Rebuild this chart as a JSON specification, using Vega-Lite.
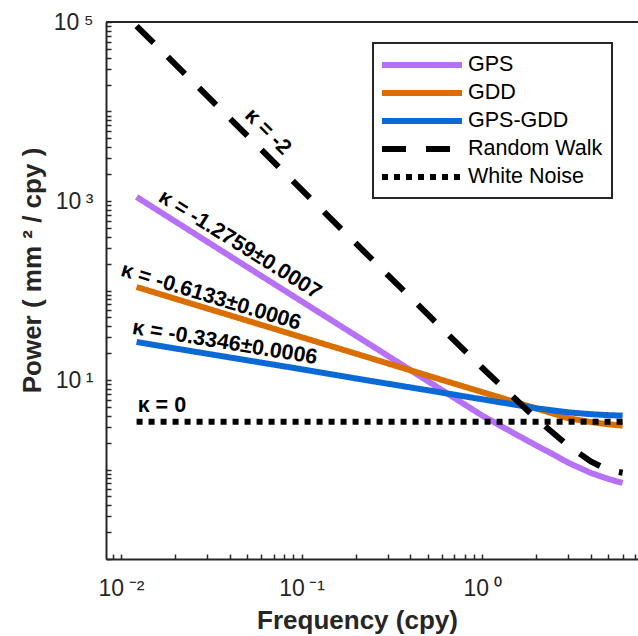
{
  "$schema": "https://vega.github.io/schema/vega-lite/v6.json",
  "width": 532,
  "height": 537,
  "autosize": "none",
  "padding": {"left": 106, "top": 22, "right": 0, "bottom": 77},
  "config": {
    "view": {"stroke": null},
    "font": "Liberation Sans",
    "axis": {
      "grid": false,
      "domainColor": "#262626",
      "domainWidth": 2,
      "labelColor": "#262626",
      "labelFont": "Liberation Sans",
      "labelFontSize": 23,
      "titleFont": "Liberation Sans",
      "titleFontSize": 26,
      "titleFontWeight": "bold",
      "titleColor": "#262626"
    }
  },
  "datasets": {
    "curves": [
      {"series": "GPS", "f": 0.0122, "p": 1109},
      {"series": "GPS", "f": 0.02, "p": 590},
      {"series": "GPS", "f": 0.05, "p": 183},
      {"series": "GPS", "f": 0.1, "p": 75.7},
      {"series": "GPS", "f": 0.2, "p": 31.3},
      {"series": "GPS", "f": 0.5, "p": 9.72},
      {"series": "GPS", "f": 0.7, "p": 6.32},
      {"series": "GPS", "f": 1, "p": 4.01},
      {"series": "GPS", "f": 1.5, "p": 2.54},
      {"series": "GPS", "f": 2, "p": 1.85},
      {"series": "GPS", "f": 2.5, "p": 1.46},
      {"series": "GPS", "f": 3, "p": 1.19},
      {"series": "GPS", "f": 4, "p": 0.916},
      {"series": "GPS", "f": 5, "p": 0.784},
      {"series": "GPS", "f": 6, "p": 0.706},
      {"series": "GDD", "f": 0.0122, "p": 109.4},
      {"series": "GDD", "f": 0.02, "p": 80.8},
      {"series": "GDD", "f": 0.05, "p": 46.1},
      {"series": "GDD", "f": 0.1, "p": 30.1},
      {"series": "GDD", "f": 0.2, "p": 19.7},
      {"series": "GDD", "f": 0.5, "p": 11.2},
      {"series": "GDD", "f": 1, "p": 7.33},
      {"series": "GDD", "f": 2, "p": 4.8},
      {"series": "GDD", "f": 3, "p": 3.74},
      {"series": "GDD", "f": 4, "p": 3.39},
      {"series": "GDD", "f": 5, "p": 3.2},
      {"series": "GDD", "f": 6, "p": 3.09},
      {"series": "GPS-GDD", "f": 0.0122, "p": 26.6},
      {"series": "GPS-GDD", "f": 0.02, "p": 22.5},
      {"series": "GPS-GDD", "f": 0.05, "p": 16.6},
      {"series": "GPS-GDD", "f": 0.1, "p": 13.2},
      {"series": "GPS-GDD", "f": 0.2, "p": 10.4},
      {"series": "GPS-GDD", "f": 0.5, "p": 7.68},
      {"series": "GPS-GDD", "f": 1, "p": 6.09},
      {"series": "GPS-GDD", "f": 2, "p": 4.83},
      {"series": "GPS-GDD", "f": 3, "p": 4.35},
      {"series": "GPS-GDD", "f": 4, "p": 4.15},
      {"series": "GPS-GDD", "f": 5, "p": 4.05},
      {"series": "GPS-GDD", "f": 6, "p": 4.0},
      {"series": "Random Walk", "f": 0.0122, "p": 90200},
      {"series": "Random Walk", "f": 0.02, "p": 33570},
      {"series": "Random Walk", "f": 0.05, "p": 5370},
      {"series": "Random Walk", "f": 0.1, "p": 1342},
      {"series": "Random Walk", "f": 0.2, "p": 335.5},
      {"series": "Random Walk", "f": 0.5, "p": 54.0},
      {"series": "Random Walk", "f": 1, "p": 13.7},
      {"series": "Random Walk", "f": 2, "p": 3.68},
      {"series": "Random Walk", "f": 3, "p": 1.84},
      {"series": "Random Walk", "f": 4, "p": 1.23},
      {"series": "Random Walk", "f": 5, "p": 0.986},
      {"series": "Random Walk", "f": 6, "p": 0.92},
      {"series": "White Noise", "f": 0.0122, "p": 3.42},
      {"series": "White Noise", "f": 6, "p": 3.42}
    ]
  },
  "layer": [
    {
      "data": {"name": "curves"},
      "mark": {"type": "line", "strokeWidth": 6, "strokeCap": "butt", "clip": true},
      "encoding": {
        "x": {
          "field": "f", "type": "quantitative",
          "scale": {"type": "log", "domain": [0.00826, 7.3], "nice": false},
          "axis": {
            "orient": "bottom",
            "title": "Frequency (cpy)",
            "titleX": 251, "titleY": 69, "titleAlign": "center", "titleBaseline": "alphabetic", "titleAnchor": "start",
            "values": [0.009, 0.01, 0.02, 0.03, 0.04, 0.05, 0.06, 0.07, 0.08, 0.09, 0.1, 0.2, 0.3, 0.4, 0.5, 0.6, 0.7, 0.8, 0.9, 1, 2, 3, 4, 5, 6, 7],
            "labelExpr": "datum.value == 0.01 ? '10\u2009\u207b\u00b2' : datum.value == 0.1 ? '10\u2009\u207b\u00b9' : datum.value == 1 ? '10\u2009\u2070' : ''",
            "labelPadding": 23,
            "labelBaseline": "top",
            "labelFlush": false,
            "labelOverlap": false,
            "ticks": true,
            "tickColor": "#262626",
            "tickWidth": 1.5,
            "tickSize": -5,
            "encode": {"ticks": {"update": {"y2": {"signal": "(datum.value == 0.01 || datum.value == 0.1 || datum.value == 1) ? -8 : -4.5"}}}}
          }
        },
        "y": {
          "field": "p", "type": "quantitative",
          "scale": {"type": "log", "domain": [0.1, 100000], "nice": false},
          "axis": {
            "orient": "left",
            "title": "Power (  mm \u00b2 / cpy )",
            "titleX": -66, "titleY": 248, "titleAngle": -90, "titleAlign": "center", "titleBaseline": "alphabetic", "titleAnchor": "start",
            "values": [0.1, 0.2, 0.3, 0.4, 0.5, 0.6, 0.7, 0.8, 0.9, 1, 2, 3, 4, 5, 6, 7, 8, 9, 10, 20, 30, 40, 50, 60, 70, 80, 90, 100, 200, 300, 400, 500, 600, 700, 800, 900, 1000, 2000, 3000, 4000, 5000, 6000, 7000, 8000, 9000, 10000, 20000, 30000, 40000, 50000, 60000, 70000, 80000, 90000, 100000],
            "labelExpr": "datum.value == 10 ? '10\u2009\u00b9' : datum.value == 1000 ? '10\u2009\u00b3' : datum.value == 100000 ? '10\u2009\u2075' : ''",
            "labelPadding": 18,
            "labelFlush": false,
            "labelOverlap": false,
            "ticks": true,
            "tickSize": -5,
            "tickColor": "#262626",
            "tickWidth": 1.5,
            "encode": {"ticks": {"update": {"x2": {"signal": "(datum.value == 10 || datum.value == 1000 || datum.value == 100000) ? 8 : 4.5"}, "stroke": {"value": "#262626"}, "strokeWidth": {"value": 1.5}, "opacity": {"value": 1}}}}
          }
        },
        "color": {
          "field": "series", "type": "nominal",
          "scale": {"domain": ["GPS", "GDD", "GPS-GDD", "Random Walk", "White Noise"], "range": ["#B771F7", "#D96F00", "#0B69D6", "#000000", "#000000"]},
          "legend": {
            "title": null,
            "orient": "none", "legendX": 267, "legendY": 21,
            "fillColor": "white", "strokeColor": "#262626",
            "padding": 9,
            "symbolType": "M-4,0H4",
            "symbolSize": 400,
            "symbolStrokeWidth": 6,
            "symbolOffset": 27,
            "labelOffset": 33,
            "labelFont": "Liberation Sans",
            "labelFontSize": 21.5,
            "labelColor": "#000000",
            "rowPadding": 3,
            "encode": {"legend": {"update": {"strokeWidth": {"value": 2}}}}
          }
        },
        "strokeDash": {
          "field": "series", "type": "nominal",
          "scale": {"domain": ["GPS", "GDD", "GPS-GDD", "Random Walk", "White Noise"], "range": [[1, 0], [1, 0], [1, 0], [24, 20], [6, 6]]},
          "legend": {
            "title": null,
            "orient": "none", "legendX": 267, "legendY": 21,
            "fillColor": "white", "strokeColor": "#262626",
            "padding": 9,
            "symbolType": "M-4,0H4",
            "symbolSize": 400,
            "symbolStrokeWidth": 6,
            "symbolOffset": 27,
            "labelOffset": 33,
            "labelFont": "Liberation Sans",
            "labelFontSize": 21.5,
            "labelColor": "#000000",
            "rowPadding": 3,
            "encode": {"legend": {"update": {"strokeWidth": {"value": 2}}}}
          }
        }
      }
    },
    {
      "data": {"values": [{"frame": "top", "p": 100000}]},
      "mark": {"type": "rule", "color": "#262626", "strokeWidth": 2},
      "encoding": {
        "y": {"field": "p", "type": "quantitative"}
      }
    },
    {
      "data": {"values": [{"label": "\u03ba = -2", "f": 0.0649, "p": 5900}]},
      "mark": {"type": "text", "angle": 45, "font": "Liberation Sans", "fontWeight": "bold", "fontSize": 21.5, "align": "center", "baseline": "middle", "color": "#000000"},
      "encoding": {
        "x": {"field": "f", "type": "quantitative"},
        "y": {"field": "p", "type": "quantitative"},
        "text": {"field": "label"}
      }
    },
    {
      "data": {"values": [{"label": "\u03ba = -1.2759\u00b10.0007", "f": 0.04546, "p": 322}]},
      "mark": {"type": "text", "angle": 32, "font": "Liberation Sans", "fontWeight": "bold", "fontSize": 21.5, "align": "center", "baseline": "middle", "color": "#000000"},
      "encoding": {
        "x": {"field": "f", "type": "quantitative"},
        "y": {"field": "p", "type": "quantitative"},
        "text": {"field": "label"}
      }
    },
    {
      "data": {"values": [{"label": "\u03ba = -0.6133\u00b10.0006", "f": 0.03143, "p": 84.5}]},
      "mark": {"type": "text", "angle": 17, "font": "Liberation Sans", "fontWeight": "bold", "fontSize": 21.5, "align": "center", "baseline": "middle", "color": "#000000"},
      "encoding": {
        "x": {"field": "f", "type": "quantitative"},
        "y": {"field": "p", "type": "quantitative"},
        "text": {"field": "label"}
      }
    },
    {
      "data": {"values": [{"label": "\u03ba = -0.3346\u00b10.0006", "f": 0.03755, "p": 25.9}]},
      "mark": {"type": "text", "angle": 9.4, "font": "Liberation Sans", "fontWeight": "bold", "fontSize": 21.5, "align": "center", "baseline": "middle", "color": "#000000"},
      "encoding": {
        "x": {"field": "f", "type": "quantitative"},
        "y": {"field": "p", "type": "quantitative"},
        "text": {"field": "label"}
      }
    },
    {
      "data": {"values": [{"label": "\u03ba = 0", "f": 0.01684, "p": 5.12}]},
      "mark": {"type": "text", "font": "Liberation Sans", "fontWeight": "bold", "fontSize": 21.5, "align": "center", "baseline": "middle", "color": "#000000"},
      "encoding": {
        "x": {"field": "f", "type": "quantitative"},
        "y": {"field": "p", "type": "quantitative"},
        "text": {"field": "label"}
      }
    }
  ]
}
